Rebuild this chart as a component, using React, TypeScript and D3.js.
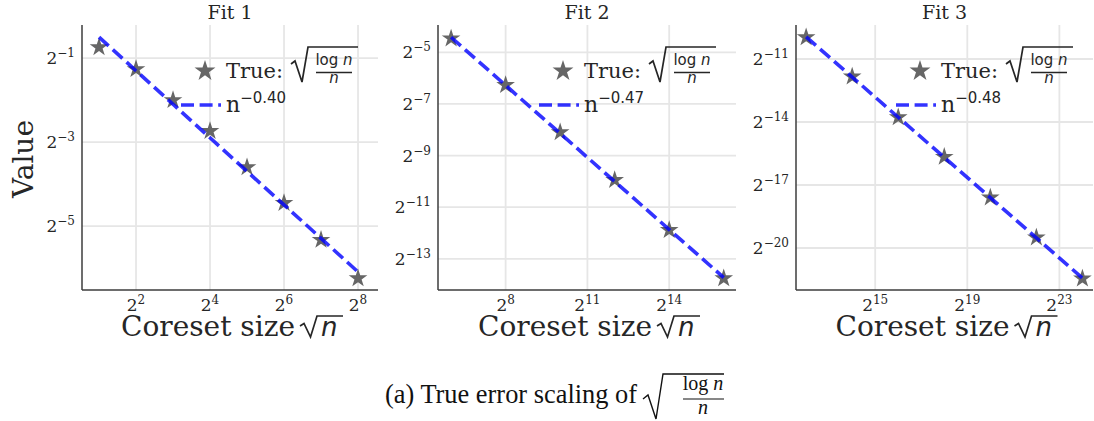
import React from 'react'
import * as d3 from 'd3'

const titles = ['Fit 1', 'Fit 2', 'Fit 3']

// coreset size (sqrt n) and the true error measured at each size
const sizes1 = [2, 4, 8, 16, 32, 64, 128, 256]
const errors1 = [0.599, 0.417, 0.25, 0.15, 0.0825, 0.0458, 0.0249, 0.0132]
const sizes2 = [64, 256, 1024, 4096, 16384, 65536]
const errors2 = [0.0454, 0.01295, 0.003645, 0.001011, 0.0002634, 0.0000721]
const sizes3 = [4096, 16384, 65536, 262144, 1048576, 4194304, 16777216]
const errors3 = [0.000997, 0.0002728, 0.0000711, 0.00001928, 0.00000504, 0.000001349, 0.000000347]

// tick exponents, base 2
const xTicks = [[2, 4, 6, 8], [8, 11, 14], [15, 19, 23]]
const yTicks = [[-1, -3, -5], [-5, -7, -9, -11, -13], [-11, -14, -17, -20]]
// axis limits, as base 2 exponents
const xLims = [[0.54, 8.54], [5.52, 16.45], [11.56, 24.46]]
const yLims = [[-6.52, -0.21], [-14.21, -3.94], [-22.0, -9.38]]

const sizes = [sizes1, sizes2, sizes3]
const errors = [errors1, errors2, errors3]

const W = 1094
const H = 421
const TOP = 25
const BOTTOM = 290
const lefts = [82, 438, 796]
const rights = [378, 736, 1093]

const SERIF = '"DejaVu Serif", serif'
const SANS = '"DejaVu Sans", sans-serif'
const LATEX = '"Liberation Serif", serif'
const INK = '#262626'
const STAR = '#666666'
const BLUE = 'rgba(0,0,255,0.8)'
const GRID = '#e6e6e6'
const SPINE = '#3c3c3c'

// least squares fit in log-log space
const fitLog = (xs: number[], ys: number[]) => {
  const lx = xs.map(Math.log2)
  const ly = ys.map(Math.log2)
  const mx = d3.mean(lx)!
  const my = d3.mean(ly)!
  const sxy = d3.sum(lx, (v, i) => (v - mx) * (ly[i] - my))
  const sxx = d3.sum(lx, v => (v - mx) ** 2)
  const slope = sxy / sxx
  return { slope, c: my - slope * mx }
}

const minus = (s: string) => s.replace('-', '\u2212')

const Panel = ({ i }: { i: number }) => {
  const left = lefts[i]
  const right = rights[i]
  const cx = (left + right) / 2
  const x = d3.scaleLog().base(2).domain(xLims[i].map(e => 2 ** e)).range([left, right])
  const y = d3.scaleLog().base(2).domain(yLims[i].map(e => 2 ** e)).range([BOTTOM, TOP])
  const xs = sizes[i]
  const ys = errors[i]
  const { slope, c } = fitLog(xs, ys)
  const fitted = xs.map(v => 2 ** (c + slope * Math.log2(v)))
  const line = d3.line<number>().x(d => x(d)).y((d, j) => y(fitted[j]))
  const starPath = d3.symbol(d3.symbolStar, 108)()!
  const legendStar = d3.symbol(d3.symbolStar, 136)()!
  const expLabel = minus((slope / 2).toFixed(2))
  const tx = right - 152

  return (
    <g>
      {/* grid */}
      {yTicks[i].map(t => (
        <line key={'gy' + t} x1={left} x2={right} y1={y(2 ** t)} y2={y(2 ** t)} stroke={GRID} strokeWidth={1.8} />
      ))}
      {xTicks[i].map(t => (
        <line key={'gx' + t} x1={x(2 ** t)} x2={x(2 ** t)} y1={TOP} y2={BOTTOM} stroke={GRID} strokeWidth={1.8} />
      ))}
      {/* spines */}
      <line x1={left} x2={left} y1={TOP} y2={BOTTOM} stroke={SPINE} strokeWidth={1.5} />
      <line x1={left} x2={right} y1={BOTTOM} y2={BOTTOM} stroke={SPINE} strokeWidth={1.5} />

      {/* tick labels */}
      {yTicks[i].map(t => (
        <text key={'ty' + t} x={left - 7} y={y(2 ** t) + 6} textAnchor="end" fontFamily={SERIF} fontSize={17} fill={INK}>
          2<tspan dy={-7} fontSize={12}>{minus(String(t))}</tspan>
        </text>
      ))}
      {xTicks[i].map(t => (
        <text key={'tx' + t} x={x(2 ** t)} y={BOTTOM + 21} textAnchor="middle" fontFamily={SERIF} fontSize={17} fill={INK}>
          2<tspan dy={-7} fontSize={12}>{t}</tspan>
        </text>
      ))}

      {/* data */}
      {xs.map((v, j) => (
        <path key={'s' + j} d={starPath} transform={`translate(${x(v)},${y(ys[j])})`} fill={STAR} />
      ))}
      <path d={line(xs)!} fill="none" stroke={BLUE} strokeWidth={3.6} strokeDasharray="13,5.6" />

      {/* title and x label */}
      <text x={cx} y={19} textAnchor="middle" fontFamily={SERIF} fontSize={19} fill={INK}>
        {titles[i]}
      </text>
      <text x={cx + 65} y={336} textAnchor="end" fontFamily={SERIF} fontSize={28} fill={INK}>
        Coreset size
      </text>
      <path
        d={`M${cx + 70},326 L${cx + 74},323.5 L${cx + 80.5},337 L${cx + 87},316 L${cx + 113},316`}
        fill="none"
        stroke={INK}
        strokeWidth={1.7}
      />
      <text x={cx + 91} y={336} fontFamily={SANS} fontStyle="italic" fontSize={26} fill={INK}>
        n
      </text>

      {/* legend */}
      <path d={legendStar} transform={`translate(${tx - 21},71)`} fill={STAR} />
      <text x={tx} y={78} fontFamily={SERIF} fontSize={21} fill={INK}>True:</text>
      <path
        d={`M${tx + 65},64 L${tx + 69},61 L${tx + 76},82 L${tx + 82},47 L${tx + 132},47`}
        fill="none"
        stroke={INK}
        strokeWidth={1.7}
      />
      <text x={tx + 108} y={65} textAnchor="middle" fontFamily={SANS} fontSize={15} fill={INK}>
        log <tspan fontStyle="italic">n</tspan>
      </text>
      <line x1={tx + 90} x2={tx + 126} y1={72.5} y2={72.5} stroke={INK} strokeWidth={1.6} />
      <text x={tx + 108} y={83} textAnchor="middle" fontFamily={SANS} fontStyle="italic" fontSize={15} fill={INK}>
        n
      </text>
      <line x1={tx - 45} x2={tx - 5} y1={105} y2={105} stroke={BLUE} strokeWidth={3.6} strokeDasharray="13,5.6" />
      <text x={tx} y={112} fontFamily={SERIF} fontSize={22} fill={INK}>
        n<tspan dy={-9} fontFamily={SANS} fontSize={15}>{expLabel}</tspan>
      </text>
    </g>
  )
}

export default function App() {
  return (
    <svg width={W} height={H} style={{ position: 'absolute', left: 0, top: 0, background: '#fff' }}>
      <rect width={W} height={H} fill="#fff" />
      {[0, 1, 2].map(i => (
        <Panel key={i} i={i} />
      ))}
      <text x={33} y={159} transform="rotate(-90,33,159)" textAnchor="middle" fontFamily={SERIF} fontSize={28} fill={INK}>
        Value
      </text>

      {/* caption */}
      <text x={385} y={403} fontFamily={LATEX} fontSize={27} textLength={252} lengthAdjust="spacingAndGlyphs" fill="#111">
        (a) True error scaling of
      </text>
      <path d="M643,399 L648,395 L656,419 L663,374 L724,374" fill="none" stroke="#111" strokeWidth={1.4} />
      <text x={703} y={390} textAnchor="middle" fontFamily={LATEX} fontSize={20} fill="#111">
        log <tspan fontStyle="italic">n</tspan>
      </text>
      <line x1={683} x2={724} y1={399} y2={399} stroke="#111" strokeWidth={1.2} />
      <text x={703} y={414} textAnchor="middle" fontFamily={LATEX} fontStyle="italic" fontSize={20} fill="#111">
        n
      </text>
    </svg>
  )
}
